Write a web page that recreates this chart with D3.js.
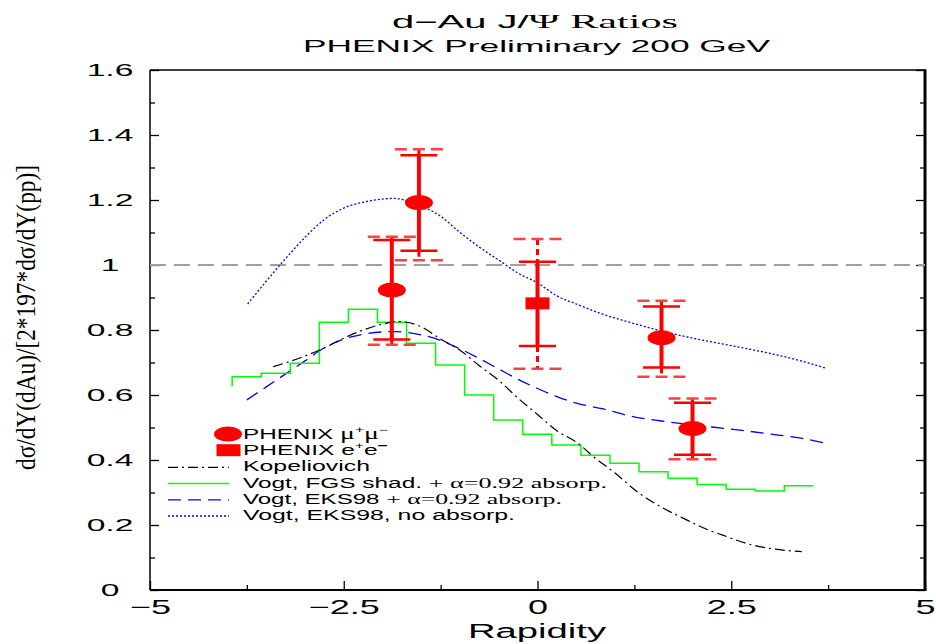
<!DOCTYPE html>
<html>
<head>
<meta charset="utf-8">
<script src="https://cdn.jsdelivr.net/npm/d3@7"></script>
<style>
  body { margin: 0; background: #fff; }
  svg { display: block; }
</style>
</head>
<body>
<div id="viz"></div>
<script>
'use strict';

// PHENIX mu+mu- points (ratio, stat and sys error limits)
const muRapidity = [-1.88, -1.53, 1.6, 2.0];
const muRatio = [0.923, 1.192, 0.776, 0.497];
const muStatLow = [0.771, 1.044, 0.685, 0.416];
const muStatHigh = [1.077, 1.338, 0.872, 0.576];
const muSysLow = [0.755, 1.015, 0.656, 0.402];
const muSysHigh = [1.087, 1.356, 0.890, 0.589];

// PHENIX e+e- point
const eeRapidity = [0.0];
const eeRatio = [0.882];
const eeStatLow = [0.751];
const eeStatHigh = [1.01];
const eeSysLow = [0.681];
const eeSysHigh = [1.08];

// Kopeliovich curve
const kopRapidity = [-3.41, -3.0, -2.75, -2.5, -2.25, -2.0, -1.8, -1.5, -1.25, -1.0, -0.75, -0.5,
  -0.25, 0, 0.25, 0.5, 0.75, 1.0, 1.3, 1.6, 1.93, 2.2, 2.4, 2.7, 3.0, 3.2, 3.41];
const kopRatio = [0.687, 0.72, 0.745, 0.775, 0.8, 0.818, 0.826, 0.81, 0.772, 0.738, 0.69, 0.645,
  0.59, 0.54, 0.49, 0.455, 0.405, 0.36, 0.3, 0.255, 0.215, 0.185, 0.168, 0.143, 0.128, 0.122, 0.118];

// Vogt, FGS shadowing + absorption (histogram: bin edges and levels)
const fgsEdges = [-3.94, -3.94, -3.565, -3.19, -2.815, -2.44, -2.065, -1.69, -1.315, -0.94, -0.565,
  -0.19, 0.185, 0.56, 0.935, 1.31, 1.685, 2.06, 2.435, 2.81, 3.185, 3.56];
const fgsRatio = [0.627, 0.656, 0.667, 0.698, 0.824, 0.864, 0.824, 0.759, 0.692, 0.600, 0.523,
  0.479, 0.446, 0.415, 0.39, 0.364, 0.344, 0.325, 0.31, 0.305, 0.321, 0.321];

// Vogt, EKS98 + absorption
const eksAbsRapidity = [-3.75, -3.5, -3.25, -3.0, -2.75, -2.5, -2.25, -2.0, -1.85, -1.5, -1.25, -1.0,
  -0.75, -0.5, -0.25, 0, 0.25, 0.5, 0.85, 1.2, 1.6, 2.0, 2.5, 3.0, 3.4, 3.73];
const eksAbsRatio = [0.585, 0.625, 0.665, 0.705, 0.745, 0.772, 0.787, 0.794, 0.795, 0.785, 0.768, 0.742,
  0.712, 0.68, 0.648, 0.62, 0.595, 0.575, 0.557, 0.535, 0.52, 0.508, 0.495, 0.48, 0.467, 0.451];

// Vogt, EKS98, no absorption
const eksRapidity = [-3.74, -3.5, -3.25, -3.0, -2.75, -2.5, -2.25, -2.0, -1.85, -1.6, -1.25, -1.0,
  -0.75, -0.5, -0.25, 0, 0.25, 0.5, 0.8, 1.2, 1.6, 2.0, 2.5, 3.0, 3.4, 3.73];
const eksRatio = [0.88, 0.95, 1.02, 1.085, 1.14, 1.175, 1.193, 1.203, 1.205, 1.19, 1.15, 1.1,
  1.055, 1.015, 0.975, 0.945, 0.905, 0.88, 0.852, 0.823, 0.797, 0.775, 0.752, 0.728, 0.705, 0.682];

const xTicks = [-5, -2.5, 0, 2.5, 5];
const xMinorTicks = [-3.75, -1.25, 1.25, 3.75];
const yTicks = [0, 0.2, 0.4, 0.6, 0.8, 1, 1.2, 1.4, 1.6];
const yMinorTicks = [0.1, 0.3, 0.5, 0.7, 0.9, 1.1, 1.3, 1.5];

const SANS = '"Liberation Sans", Arial, Helvetica, sans-serif';
const SERIF = '"Liberation Serif", "Times New Roman", serif';
const RED = '#ff0000';

const W = 936, H = 644;
const box = {left: 150, right: 925, top: 70, bottom: 590};

const svg = d3.select('#viz')
  .append('svg')
    .attr('width', W)
    .attr('height', H)
    .style('font-family', SANS);

const x = d3.scaleLinear().domain([-5, 5]).range([box.left, box.right]);
const y = d3.scaleLinear().domain([0, 1.6]).range([box.bottom, box.top]);

// ticks point inward
function styleAxis(g) {
  g.select('.domain').remove();
  g.selectAll('.tick line').attr('stroke', '#000').attr('stroke-width', 1.3);
}

svg.append('g')
  .attr('transform', `translate(0,${box.bottom})`)
  .call(d3.axisBottom(x).tickValues(xTicks).tickSize(-9).tickPadding(0).tickFormat(d3.format('~g')))
  .call(styleAxis)
  .call(g => g.selectAll('text')
    .attr('font-family', SANS)
    .attr('font-size', 20)
    .attr('fill', '#000')
    .attr('y', 24)
    .attr('dy', 0)
    .attr('transform', 'scale(1.8,1)'));

svg.append('g')
  .attr('transform', `translate(0,${box.bottom})`)
  .call(d3.axisBottom(x).tickValues(xMinorTicks).tickSize(-5).tickFormat(''))
  .call(styleAxis);

svg.append('g')
  .attr('transform', `translate(${box.left},0)`)
  .call(d3.axisLeft(y).tickValues(yTicks).tickSize(-9).tickFormat(d3.format('~g')))
  .call(styleAxis)
  .call(g => g.selectAll('text')
    .attr('font-family', SANS)
    .attr('font-size', 16)
    .attr('fill', '#000')
    .attr('text-anchor', 'middle')
    .attr('x', -40 / 2.1)
    .attr('dy', '0.36em')
    .attr('transform', 'scale(2.1,1)'));

svg.append('g')
  .attr('transform', `translate(${box.left},0)`)
  .call(d3.axisLeft(y).tickValues(yMinorTicks).tickSize(-5).tickFormat(''))
  .call(styleAxis);

svg.append('g')
  .attr('transform', `translate(${box.right},0)`)
  .call(d3.axisRight(y).tickValues(yTicks).tickSize(-9).tickFormat(''))
  .call(styleAxis);

svg.append('g')
  .attr('transform', `translate(${box.right},0)`)
  .call(d3.axisRight(y).tickValues(yMinorTicks).tickSize(-5).tickFormat(''))
  .call(styleAxis);

// frame
const frame = svg.append('g').attr('stroke', '#000').attr('fill', 'none');
frame.append('line').attr('x1', box.left).attr('x2', box.right)
  .attr('y1', box.top).attr('y2', box.top).attr('stroke-width', 1.5);
frame.append('line').attr('x1', box.left).attr('x2', box.right + 1.5)
  .attr('y1', box.bottom).attr('y2', box.bottom).attr('stroke-width', 2);
frame.append('line').attr('x1', box.left).attr('x2', box.left)
  .attr('y1', box.top).attr('y2', box.bottom).attr('stroke-width', 1.5);
frame.append('line').attr('x1', box.right).attr('x2', box.right)
  .attr('y1', box.top - 0.75).attr('y2', box.bottom).attr('stroke-width', 3);

// reference line at 1
svg.append('line')
  .attr('x1', x(-5)).attr('x2', x(5))
  .attr('y1', y(1)).attr('y2', y(1))
  .attr('stroke', '#a0a0a0')
  .attr('stroke-width', 2.2)
  .attr('stroke-dasharray', '16,8');

// theory curves
const zip = (xs, ys) => xs.map((v, i) => [v, ys[i]]);
const curve = d3.line().x(d => x(d[0])).y(d => y(d[1])).curve(d3.curveMonotoneX);

svg.append('path')
  .datum(zip(eksRapidity, eksRatio))
  .attr('fill', 'none')
  .attr('stroke', '#0000ff')
  .attr('stroke-width', 1.3)
  .attr('stroke-dasharray', '2,2')
  .attr('d', curve);

svg.append('path')
  .datum(zip(eksAbsRapidity, eksAbsRatio))
  .attr('fill', 'none')
  .attr('stroke', '#0000ff')
  .attr('stroke-width', 1.3)
  .attr('stroke-dasharray', '13,7')
  .attr('d', curve);

svg.append('path')
  .datum(zip(fgsEdges, fgsRatio))
  .attr('fill', 'none')
  .attr('stroke', '#00ff00')
  .attr('stroke-width', 1.5)
  .attr('d', d3.line().x(d => x(d[0])).y(d => y(d[1])).curve(d3.curveStepAfter));

svg.append('path')
  .datum(zip(kopRapidity, kopRatio))
  .attr('fill', 'none')
  .attr('stroke', '#000')
  .attr('stroke-width', 1.2)
  .attr('stroke-dasharray', '10,4,2,4')
  .attr('d', curve);

// data points with stat (solid) and sys (dashed) error bars
function drawPoints(xs, vals, statLo, statHi, sysLo, sysHi, square) {
  const g = svg.append('g').attr('stroke', RED).attr('fill', RED);
  xs.forEach((xv, i) => {
    const cx = x(xv);
    g.append('line')
      .attr('x1', cx).attr('x2', cx)
      .attr('y1', y(sysHi[i])).attr('y2', y(statHi[i]))
      .attr('stroke-width', 3).attr('stroke-dasharray', '6,4');
    g.append('line')
      .attr('x1', cx).attr('x2', cx)
      .attr('y1', y(statLo[i])).attr('y2', y(sysLo[i]))
      .attr('stroke-width', 3).attr('stroke-dasharray', '6,4');
    g.append('line')
      .attr('x1', cx).attr('x2', cx)
      .attr('y1', y(statLo[i])).attr('y2', y(statHi[i]))
      .attr('stroke-width', 4);
    [statLo[i], statHi[i]].forEach(v => {
      g.append('line')
        .attr('x1', cx - 18.5).attr('x2', cx + 18.5)
        .attr('y1', y(v)).attr('y2', y(v))
        .attr('stroke-width', 2.5);
    });
    [sysLo[i], sysHi[i]].forEach(v => {
      g.append('line')
        .attr('x1', cx - 24).attr('x2', cx + 24)
        .attr('y1', y(v)).attr('y2', y(v))
        .attr('stroke-width', 2.5)
        .attr('stroke', '#ff4040')
        .attr('stroke-dasharray', '12,6');
    });
    if (square) {
      g.append('rect')
        .attr('x', cx - 12).attr('y', y(vals[i]) - 6)
        .attr('width', 24).attr('height', 12)
        .attr('stroke', 'none');
    } else {
      g.append('ellipse')
        .attr('cx', cx).attr('cy', y(vals[i]))
        .attr('rx', 14).attr('ry', 7.5)
        .attr('stroke', 'none');
    }
  });
}

drawPoints(muRapidity, muRatio, muStatLow, muStatHigh, muSysLow, muSysHigh, false);
drawPoints(eeRapidity, eeRatio, eeStatLow, eeStatHigh, eeSysLow, eeSysHigh, true);

// legend
const legend = svg.append('g').attr('font-size', 14);
const lx = 243, ly0 = 439, lstep = 16.2;

legend.append('ellipse')
  .attr('cx', 228).attr('cy', ly0 - 5).attr('rx', 14).attr('ry', 7.5).attr('fill', RED);
legend.append('rect')
  .attr('x', 216.5).attr('y', ly0 + lstep - 11).attr('width', 24).attr('height', 12).attr('fill', RED);

const legendLines = [
  {stroke: '#000', dash: '10,4,2,4', width: 1.2},
  {stroke: '#00ff00', dash: null, width: 1.5},
  {stroke: '#0000ff', dash: '13,7', width: 1.3},
  {stroke: '#0000ff', dash: '2,2', width: 1.3}
];
legendLines.forEach((s, i) => {
  legend.append('line')
    .attr('x1', 168).attr('x2', 229)
    .attr('y1', ly0 + lstep * (i + 2) - 4).attr('y2', ly0 + lstep * (i + 2) - 4)
    .attr('stroke', s.stroke)
    .attr('stroke-width', s.width)
    .attr('stroke-dasharray', s.dash);
});

function stretched(parent, px, py, len, size) {
  return parent.append('text')
    .attr('x', px).attr('y', py)
    .attr('font-size', size)
    .attr('textLength', len)
    .attr('lengthAdjust', 'spacingAndGlyphs');
}

let t = stretched(legend, lx, ly0, 145, 14);
t.append('tspan').text('PHENIX ');
t.append('tspan').attr('font-family', SERIF).attr('font-size', 16).text('μ');
t.append('tspan').attr('font-size', 9).attr('dy', -6).text('+');
t.append('tspan').attr('font-family', SERIF).attr('font-size', 16).attr('dy', 6).text('μ');
t.append('tspan').attr('font-size', 9).attr('dy', -6).text('−');

t = stretched(legend, lx, ly0 + lstep, 145, 14);
t.append('tspan').text('PHENIX e');
t.append('tspan').attr('font-size', 9).attr('dy', -6).text('+');
t.append('tspan').attr('dy', 6).text('e');
t.append('tspan').attr('font-size', 10).attr('font-weight', 'bold').attr('dy', -6).text('−');

stretched(legend, lx, ly0 + lstep * 2, 127, 14).text('Kopeliovich');

t = stretched(legend, lx, ly0 + lstep * 3, 364, 14);
t.append('tspan').text('Vogt, FGS shad. ');
t.append('tspan').attr('font-family', SERIF).attr('font-size', 15).text('+ α=0.92 absorp.');

t = stretched(legend, lx, ly0 + lstep * 4, 319, 14);
t.append('tspan').text('Vogt, EKS98 ');
t.append('tspan').attr('font-family', SERIF).attr('font-size', 15).text('+ α=0.92 absorp.');

stretched(legend, lx, ly0 + lstep * 5, 272, 14).text('Vogt, EKS98, no absorp.');

// titles
t = stretched(svg, 392, 28, 286, 18);
t.append('tspan').text('d−Au J/');
t.append('tspan').attr('font-family', SERIF).attr('font-size', 19).text('Ψ Ratios');

stretched(svg, 303, 52, 467, 17).text('PHENIX Preliminary  200 GeV');

stretched(svg, 468, 638, 138, 20).text('Rapidity');

svg.append('text')
  .attr('transform', 'translate(35,470) rotate(-90)')
  .attr('font-family', SERIF)
  .attr('font-size', 28)
  .attr('textLength', 305)
  .attr('lengthAdjust', 'spacingAndGlyphs')
  .text('dσ/dY(dAu)/[2*197*dσ/dY(pp)]');
</script>
</body>
</html>
